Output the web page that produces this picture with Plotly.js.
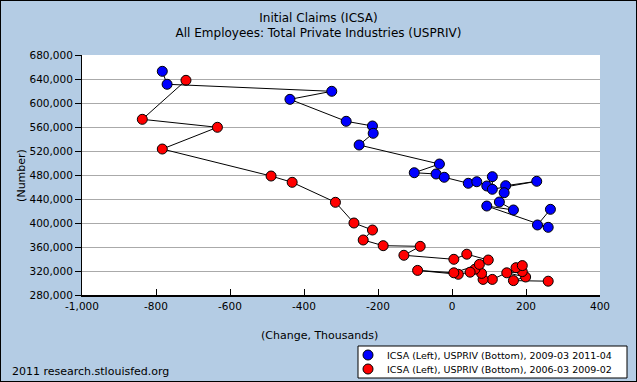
<!DOCTYPE html>
<html>
<head>
<meta charset="utf-8">
<script src="https://cdn.plot.ly/plotly-3.0.1.min.js"></script>
<style>
html,body{margin:0;padding:0;background:#fff;}
#wrap{width:637px;height:382px;box-sizing:border-box;border:1px solid #000;}
#chart{width:635px;height:380px;}
</style>
</head>
<body>
<div id="wrap"><div id="chart"></div></div>
<script>
// Blue series: ICSA (Left), USPRIV (Bottom), 2009-03 .. 2011-04
const blueUSPRIV = [-783,-770,-325,-438,-286,-215,-213,-251,-34,-102,-43,-21,44,67,94,109,109,229,145,141,128,166,94,260,231,266];
const blueICSA   = [652800,631200,619500,606100,569500,561700,549500,530000,498300,483800,481700,476200,466200,468800,461700,477200,456200,469500,462200,450500,435000,421700,428300,392800,396700,422800];

// Red series: ICSA (Left), USPRIV (Bottom), 2006-03 .. 2009-02
const redUSPRIV = [260,166,199,148,190,173,190,109,84,80,62,49,17,-93,5,74,98,40,5,-130,-86,-186,-240,-215,-265,-315,-432,-489,-783,-634,-837,-719];
const redICSA   = [303000,304000,310000,317000,319000,325500,329000,306000,306000,316000,323000,318000,314500,321000,317000,331000,338300,348000,339500,346200,361100,362200,371700,388300,400000,434500,467800,478300,523300,559500,572800,637800];

const xTickVals = [-1000,-800,-600,-400,-200,0,200,400];
const xTickText = ['-1,000','-800','-600','-400','-200','0','200','400'];
const yTickVals = [280000,320000,360000,400000,440000,480000,520000,560000,600000,640000,680000];
const yTickText = ['280,000','320,000','360,000','400,000','440,000','480,000','520,000','560,000','600,000','640,000','680,000'];

const seriesNames  = ['ICSA (Left), USPRIV (Bottom), 2009-03 2011-04', 'ICSA (Left), USPRIV (Bottom), 2006-03 2009-02'];
const seriesColors = ['#0000ff', '#ff0000'];

const FONT = 'DejaVu Sans, Verdana, sans-serif';
const mk = c => ({color:c, size:10, line:{color:'#000', width:1}});

const traces = [
  {x:redUSPRIV, y:redICSA, name:seriesNames[1], mode:'lines+markers', line:{color:'#000', width:1}, marker:mk(seriesColors[1]), showlegend:false, hoverinfo:'x+y'},
  {x:blueUSPRIV, y:blueICSA, name:seriesNames[0], mode:'lines+markers', line:{color:'#000', width:1}, marker:mk(seriesColors[0]), showlegend:false, hoverinfo:'x+y'}
];

// Plot area in pixels (for placing the compact legend box below the plot)
const PL = 82, PW = 518, PB = 295, PH = 240;
const px = v => (v - PL) / PW;
const py = v => (PB - v) / PH;

const shapes = [
  {type:'rect', xref:'paper', yref:'paper', x0:px(358), x1:px(627), y0:py(378), y1:py(346), fillcolor:'#ffffff', line:{color:'#000', width:1}, layer:'above'}
];
const annotations = [
  {text:'(Change, Thousands)', xref:'paper', yref:'paper', x:0.459, y:-0.167, xanchor:'center', yanchor:'middle', showarrow:false, font:{family:FONT, size:11, color:'#000'}},
  {text:'(Number)', xref:'paper', yref:'paper', x:-0.118, y:0.5, xanchor:'center', yanchor:'middle', textangle:-90, showarrow:false, font:{family:FONT, size:11, color:'#000'}},
  {text:'2011 research.stlouisfed.org', xref:'paper', yref:'paper', x:-0.139, y:-0.32, xanchor:'left', yanchor:'middle', showarrow:false, font:{family:FONT, size:11, color:'#000'}}
];
seriesNames.forEach((nm, i) => {
  const cy = 355 + i * 14;
  shapes.push({type:'circle', xref:'paper', yref:'paper', x0:px(363), x1:px(373), y0:py(cy + 5), y1:py(cy - 5), fillcolor:seriesColors[i], line:{color:'#000', width:1}, layer:'above'});
  annotations.push({text:nm, xref:'paper', yref:'paper', x:px(385), y:py(cy), xanchor:'left', yanchor:'middle', showarrow:false, font:{family:FONT, size:9.5, color:'#000'}});
});

const layout = {
  width:635, height:380,
  margin:{l:81, r:36, t:54, b:86, autoexpand:false},
  paper_bgcolor:'#b4cce4',
  plot_bgcolor:'#ffffff',
  font:{family:FONT, size:11, color:'#000'},
  title:{text:'Initial Claims (ICSA)<br>All Employees: Total Private Industries (USPRIV)', x:0.5, xref:'container', xanchor:'center', y:0.946, yref:'container', yanchor:'top', font:{family:FONT, size:12, color:'#000'}},
  xaxis:{range:[-1000,400], tickvals:xTickVals, ticktext:xTickText, ticks:'inside', ticklen:6, tickcolor:'#000', showgrid:false, zeroline:false, showline:true, linecolor:'#000', linewidth:2, tickfont:{size:10.5, color:'#000'}, fixedrange:true, automargin:false},
  yaxis:{range:[280000,680000], tickvals:yTickVals, ticktext:yTickText, ticks:'outside', ticklen:6, tickcolor:'#000', showgrid:true, gridcolor:'#aaaaaa', gridwidth:1, zeroline:false, showline:true, linecolor:'#000', linewidth:1, tickfont:{size:10.5, color:'#000'}, fixedrange:true, automargin:false},
  showlegend:false,
  shapes:shapes,
  annotations:annotations
};

Plotly.newPlot('chart', traces, layout, {displayModeBar:false, staticPlot:true});
</script>
</body>
</html>
